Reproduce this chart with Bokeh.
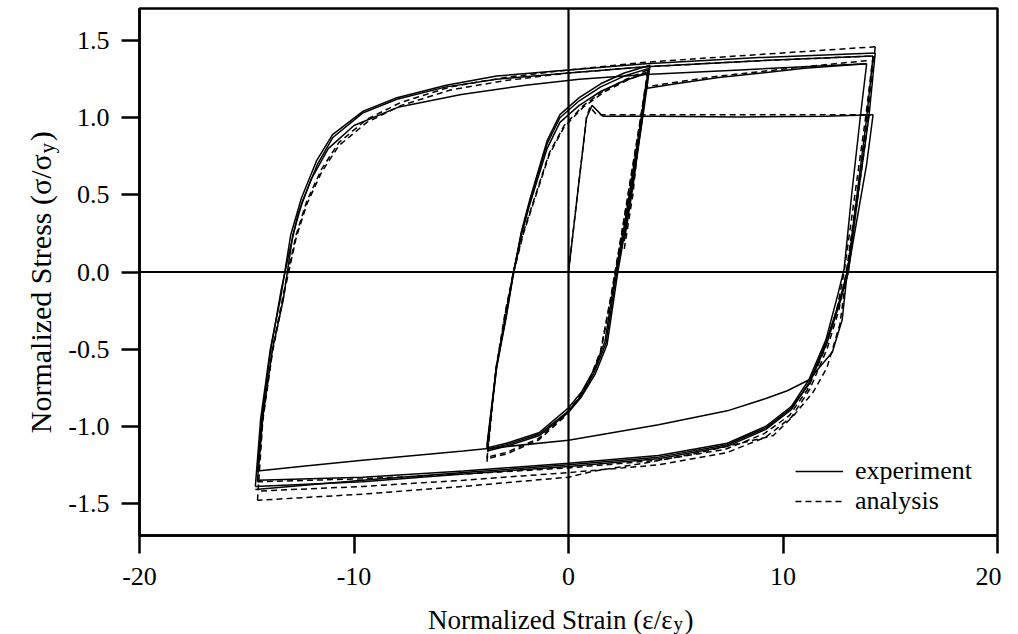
import math
from bokeh.plotting import figure
from bokeh.layouts import column, row
from bokeh.models import Range1d, FixedTicker, Span, Label, Legend, LegendItem
from bokeh.embed import file_html
from bokeh.resources import INLINE

# ---------------- data ----------------
x_ticks = [-20, -10, 0, 10, 20]
x_tick_labels = ["-20", "-10", "0", "10", "20"]
y_ticks = [-1.5, -1.0, -0.5, 0.0, 0.5, 1.0, 1.5]
y_tick_labels = ["-1.5", "-1.0", "-0.5", "0.0", "0.5", "1.0", "1.5"]

# experiment (solid)
exp_init_x = [0.0, 0.4, 0.84, 1.1, 1.6, 4.0, 8.0, 12.0, 14.2]
exp_init_y = [0.0, 0.48, 1.00, 1.08, 1.01, 1.01, 1.005, 1.01, 1.02]
exp_c1_x = [14.2, 13.9, 13.4, 12.95, 12.76, 12.3, 11.2, 10.2, 9.2, 7.4, 4.2, 0.0, -4.9, -9.6, -12.5, -14.5]
exp_c1_y = [1.02, 0.70, 0.30, -0.06, -0.31, -0.52, -0.70, -0.77, -0.82, -0.90, -0.99, -1.09, -1.16, -1.22, -1.26, -1.29]
exp_a1_x = [-14.5, -14.3, -13.9, -13.4, -13.0, -12.6, -12.0, -11.2, -10.0, -7.9, -5.0, -2.0, 0.5, 3.6, 8.0, 13.9]
exp_a1_y = [-1.29, -0.95, -0.52, -0.12, 0.14, 0.38, 0.60, 0.80, 0.95, 1.07, 1.15, 1.21, 1.25, 1.28, 1.31, 1.35]
exp_d1_x = [13.9, 13.6, 13.2, 12.85, 12.55, 12.0, 11.2, 10.4, 9.2, 7.4, 4.2, 0.0, -4.9, -9.6, -14.5]
exp_d1_y = [1.35, 1.00, 0.50, 0.02, -0.15, -0.44, -0.70, -0.87, -1.00, -1.11, -1.19, -1.24, -1.29, -1.33, -1.35]
exp_a2_x = [-14.5, -14.25, -13.8, -13.3, -12.85, -12.4, -11.7, -11.0, -9.6, -8.0, -5.7, -3.35, 0.0, 3.6, 8.9, 14.2]
exp_a2_y = [-1.35, -0.94, -0.50, -0.18, 0.24, 0.46, 0.70, 0.87, 1.03, 1.12, 1.20, 1.25, 1.29, 1.33, 1.37, 1.40]
exp_d2_x = [14.2, 13.9, 13.45, 13.0, 12.6, 12.0, 11.2, 10.4, 9.2, 7.4, 4.2, 0.0, -4.9, -9.6, -14.6]
exp_d2_y = [1.40, 1.00, 0.50, 0.00, -0.20, -0.46, -0.72, -0.89, -1.02, -1.13, -1.21, -1.26, -1.31, -1.36, -1.39]
exp_a3_x = [-14.6, -14.35, -13.9, -13.4, -12.95, -12.45, -11.75, -11.0, -9.6, -8.0, -5.7, -3.35, 0.0, 3.6, 8.9, 14.3]
exp_a3_y = [-1.39, -0.95, -0.50, -0.15, 0.24, 0.48, 0.72, 0.89, 1.04, 1.13, 1.21, 1.27, 1.31, 1.35, 1.39, 1.42]
exp_d3_x = [14.3, 14.0, 13.5, 13.05, 12.65, 12.05, 11.25, 10.4, 9.2, 7.4, 4.2, 0.0, -4.9, -9.6, -14.6]
exp_d3_y = [1.42, 1.00, 0.50, 0.00, -0.20, -0.46, -0.72, -0.88, -1.01, -1.12, -1.20, -1.25, -1.30, -1.35, -1.41]
exp_sa1_x = [-3.8, -3.35, -2.9, -2.6, -2.2, -1.8, -1.0, -0.4, 0.5, 1.5, 2.6, 3.7]
exp_sa1_y = [-1.12, -0.60, -0.27, -0.02, 0.24, 0.44, 0.80, 0.97, 1.08, 1.17, 1.24, 1.29]
exp_sd1_x = [3.7, 3.4, 3.0, 2.6, 2.2, 1.7, 1.2, 0.6, 0.0, -1.35, -2.9, -3.8]
exp_sd1_y = [1.29, 1.00, 0.65, 0.30, 0.00, -0.45, -0.63, -0.78, -0.88, -1.04, -1.11, -1.14]
exp_sa2_x = [-3.8, -3.35, -2.9, -2.6, -2.2, -1.8, -1.0, -0.4, 0.5, 1.5, 2.6, 3.75]
exp_sa2_y = [-1.14, -0.61, -0.28, -0.03, 0.25, 0.46, 0.83, 1.00, 1.11, 1.20, 1.27, 1.32]
exp_sd2_x = [3.75, 3.45, 3.05, 2.65, 2.25, 1.75, 1.2, 0.6, 0.0, -1.35, -2.9, -3.8]
exp_sd2_y = [1.32, 1.02, 0.66, 0.31, 0.00, -0.46, -0.65, -0.80, -0.90, -1.05, -1.12, -1.15]
exp_sa3_x = [-3.8, -3.35, -2.9, -2.6, -2.2, -1.8, -1.0, -0.4, 0.5, 1.5, 2.6, 3.8]
exp_sa3_y = [-1.15, -0.62, -0.29, -0.04, 0.26, 0.47, 0.85, 1.02, 1.13, 1.22, 1.29, 1.34]
exp_sd3_x = [3.8, 3.5, 3.1, 2.7, 2.3, 1.8, 1.25, 0.6, 0.0, -1.35, -2.9, -3.8]
exp_sd3_y = [1.34, 1.04, 0.68, 0.32, 0.00, -0.47, -0.66, -0.81, -0.91, -1.06, -1.13, -1.16]
exp_tr_x = [2.6, 3.0, 3.4, 3.6, 5.0, 7.0, 9.0, 11.0, 13.9]
exp_tr_y = [0.20, 0.55, 0.95, 1.19, 1.22, 1.26, 1.29, 1.32, 1.35]

# analysis (dashed)
ana_init_x = [0.0, 0.5, 0.84, 1.0, 1.3, 4.0, 8.0, 12.0, 14.0]
ana_init_y = [0.0, 0.60, 1.00, 1.07, 1.02, 1.02, 1.02, 1.02, 1.02]
ana_c1_x = [14.0, 13.75, 13.35, 13.0, 12.65, 12.05, 11.4, 10.5, 9.55, 7.7, 5.8, 3.5, 1.2, 0.0, -4.9, -9.6, -14.5]
ana_c1_y = [1.02, 0.75, 0.35, 0.02, -0.34, -0.62, -0.78, -0.93, -1.06, -1.12, -1.18, -1.24, -1.29, -1.33, -1.39, -1.44, -1.48]
ana_a1_x = [-14.5, -14.25, -13.8, -13.2, -12.7, -12.2, -11.5, -10.7, -9.4, -7.8, -5.5, -3.0, 0.0, 3.6, 8.9, 14.2]
ana_a1_y = [-1.48, -0.96, -0.52, -0.10, 0.22, 0.44, 0.65, 0.82, 0.97, 1.08, 1.18, 1.24, 1.29, 1.33, 1.37, 1.40]
ana_d1_x = [14.2, 13.85, 13.35, 12.85, 12.5, 11.95, 11.15, 10.3, 9.1, 7.3, 4.2, 0.0, -4.9, -9.6, -14.5]
ana_d1_y = [1.40, 1.00, 0.50, 0.00, -0.25, -0.50, -0.76, -0.93, -1.05, -1.15, -1.22, -1.27, -1.31, -1.34, -1.36]
ana_a2_x = [-14.5, -14.25, -13.8, -13.2, -12.7, -12.2, -11.5, -10.7, -9.4, -7.8, -5.5, -3.0, 0.0, 3.6, 8.9, 14.3]
ana_a2_y = [-1.36, -0.94, -0.50, -0.08, 0.24, 0.46, 0.67, 0.84, 0.99, 1.10, 1.20, 1.26, 1.31, 1.36, 1.41, 1.46]
ana_d2_x = [14.3, 13.95, 13.45, 12.95, 12.6, 12.05, 11.25, 10.4, 9.2, 7.4, 4.2, 0.0, -4.9, -9.6, -14.5]
ana_d2_y = [1.46, 1.00, 0.50, 0.00, -0.25, -0.50, -0.76, -0.94, -1.07, -1.17, -1.25, -1.30, -1.35, -1.39, -1.42]
ana_sa1_x = [-3.8, -3.4, -2.95, -2.55, -2.1, -1.7, -0.9, -0.2, 0.7, 1.7, 2.7, 3.7]
ana_sa1_y = [-1.23, -0.66, -0.27, 0.00, 0.25, 0.42, 0.76, 0.94, 1.07, 1.17, 1.24, 1.30]
ana_sd1_x = [3.7, 3.35, 2.9, 2.45, 2.0, 1.5, 1.0, 0.4, -0.2, -1.4, -2.9, -3.8]
ana_sd1_y = [1.30, 0.98, 0.60, 0.22, -0.15, -0.52, -0.70, -0.84, -0.94, -1.09, -1.18, -1.21]
ana_sa2_x = [-3.8, -3.4, -2.95, -2.55, -2.1, -1.7, -0.9, -0.2, 0.7, 1.7, 2.7, 3.7]
ana_sa2_y = [-1.21, -0.64, -0.26, 0.01, 0.26, 0.43, 0.77, 0.95, 1.08, 1.18, 1.25, 1.31]
ana_sd2_x = [3.7, 3.35, 2.9, 2.45, 2.0, 1.5, 1.0, 0.4, -0.2, -1.4, -2.9, -3.8]
ana_sd2_y = [1.31, 0.99, 0.61, 0.23, -0.14, -0.51, -0.69, -0.83, -0.93, -1.08, -1.17, -1.20]
ana_tr_x = [2.6, 3.0, 3.3, 3.6, 5.0, 7.0, 9.0, 11.0, 13.9]
ana_tr_y = [0.15, 0.50, 0.90, 1.20, 1.23, 1.27, 1.30, 1.33, 1.37]

exp_xs = [exp_init_x, exp_c1_x, exp_a1_x, exp_d1_x, exp_a2_x, exp_d2_x, exp_a3_x, exp_d3_x,
          exp_sa1_x, exp_sd1_x, exp_sa2_x, exp_sd2_x, exp_sa3_x, exp_sd3_x, exp_tr_x]
exp_ys = [exp_init_y, exp_c1_y, exp_a1_y, exp_d1_y, exp_a2_y, exp_d2_y, exp_a3_y, exp_d3_y,
          exp_sa1_y, exp_sd1_y, exp_sa2_y, exp_sd2_y, exp_sa3_y, exp_sd3_y, exp_tr_y]
ana_xs = [ana_init_x, ana_c1_x, ana_a1_x, ana_d1_x, ana_a2_x, ana_d2_x,
          ana_sa1_x, ana_sd1_x, ana_sa2_x, ana_sd2_x, ana_tr_x]
ana_ys = [ana_init_y, ana_c1_y, ana_a1_y, ana_d1_y, ana_a2_y, ana_d2_y,
          ana_sa1_y, ana_sd1_y, ana_sa2_y, ana_sd2_y, ana_tr_y]

# ---------------- main figure ----------------
FONT = "Liberation Serif"
STRIP_W = 62
p = figure(width=1001 - STRIP_W, height=600, x_range=Range1d(-20, 20), y_range=Range1d(-1.708, 1.708),
           output_backend="svg", toolbar_location=None,
           min_border_left=139 - STRIP_W, min_border_right=4, min_border_top=8, min_border_bottom=65)
p.grid.visible = False
p.background_fill_color = "white"
p.border_fill_color = "white"
p.outline_line_color = "black"
p.outline_line_width = 2.5

p.xaxis.ticker = FixedTicker(ticks=x_ticks)
p.yaxis.ticker = FixedTicker(ticks=y_ticks)
p.xaxis.major_label_overrides = {v: s for v, s in zip(x_ticks, x_tick_labels)}
p.yaxis.major_label_overrides = {v: s for v, s in zip(y_ticks, y_tick_labels)}
for ax in (p.xaxis, p.yaxis):
    ax.minor_tick_line_color = None
    ax.major_tick_out = 18
    ax.major_tick_in = 0
    ax.major_tick_line_width = 2.5
    ax.major_tick_line_color = "black"
    ax.axis_line_width = 2.5
    ax.axis_line_color = "black"
    ax.major_label_text_font = FONT
    ax.major_label_text_font_size = "26px"
    ax.major_label_text_color = "black"
p.xaxis.major_label_standoff = 14
p.yaxis.major_label_standoff = 12

p.add_layout(Span(location=0, dimension="width", line_color="black", line_width=2.2))
p.add_layout(Span(location=0, dimension="height", line_color="black", line_width=2.2))

r_exp = p.multi_line(xs=exp_xs, ys=exp_ys, line_color="black", line_width=1.5)
r_ana = p.multi_line(xs=ana_xs, ys=ana_ys, line_color="black", line_width=1.5, line_dash="6 4")

legend = Legend(items=[LegendItem(label="experiment", renderers=[r_exp]),
                       LegendItem(label="analysis", renderers=[r_ana])],
                location=(656, 19), border_line_color=None, background_fill_alpha=0,
                label_text_font=FONT, label_text_font_size="26px", label_text_color="black",
                glyph_width=48, glyph_height=28, label_height=28, label_standoff=12,
                spacing=0, padding=0, margin=0)
p.add_layout(legend)

# ---------------- axis titles (with subscript y) ----------------
def strip(w, h):
    f = figure(width=w, height=h, x_range=Range1d(0, w), y_range=Range1d(0, h),
               output_backend="svg", toolbar_location=None, x_axis_type=None, y_axis_type=None,
               min_border=0, min_border_left=0, min_border_right=0, min_border_top=0,
               min_border_bottom=0)
    f.grid.visible = False
    f.outline_line_color = None
    f.background_fill_color = "white"
    f.border_fill_color = "white"
    return f

# left strip: page x 0..STRIP_W, page y 0..600 ; data x = page_x, data y = 600 - page_y
ylab = strip(STRIP_W, 600)
ylab.add_layout(Label(x=40, y=600 - 166, text="Normalized Stress (\u03c3/\u03c3",
                      text_font=FONT, text_font_size="30px", text_align="right", angle=math.pi / 2,
                      text_baseline="alphabetic", text_color="black"))
ylab.add_layout(Label(x=46, y=600 - 165, text="y",
                      text_font=FONT, text_font_size="21px", text_align="left", angle=math.pi / 2,
                      text_baseline="alphabetic", text_color="black"))
ylab.add_layout(Label(x=40, y=600 - 151, text=")",
                      text_font=FONT, text_font_size="30px", text_align="left", angle=math.pi / 2,
                      text_baseline="alphabetic", text_color="black"))

# bottom strip: page x 0..1001, page y 600..634 ; data x = page_x, data y = 634 - page_y
xlab = strip(1001, 34)
xlab.add_layout(Label(x=672, y=634 - 619, text="Normalized Strain (\u03b5/\u03b5",
                      text_font=FONT, text_font_size="27px", text_align="right",
                      text_baseline="alphabetic", text_color="black"))
xlab.add_layout(Label(x=673, y=634 - 623, text="y",
                      text_font=FONT, text_font_size="19px", text_align="left",
                      text_baseline="alphabetic", text_color="black"))
xlab.add_layout(Label(x=684, y=634 - 619, text=")",
                      text_font=FONT, text_font_size="27px", text_align="left",
                      text_baseline="alphabetic", text_color="black"))

layout = column(row(ylab, p, spacing=0), xlab, spacing=0)
open("out.html", "w").write(file_html(layout, INLINE))
